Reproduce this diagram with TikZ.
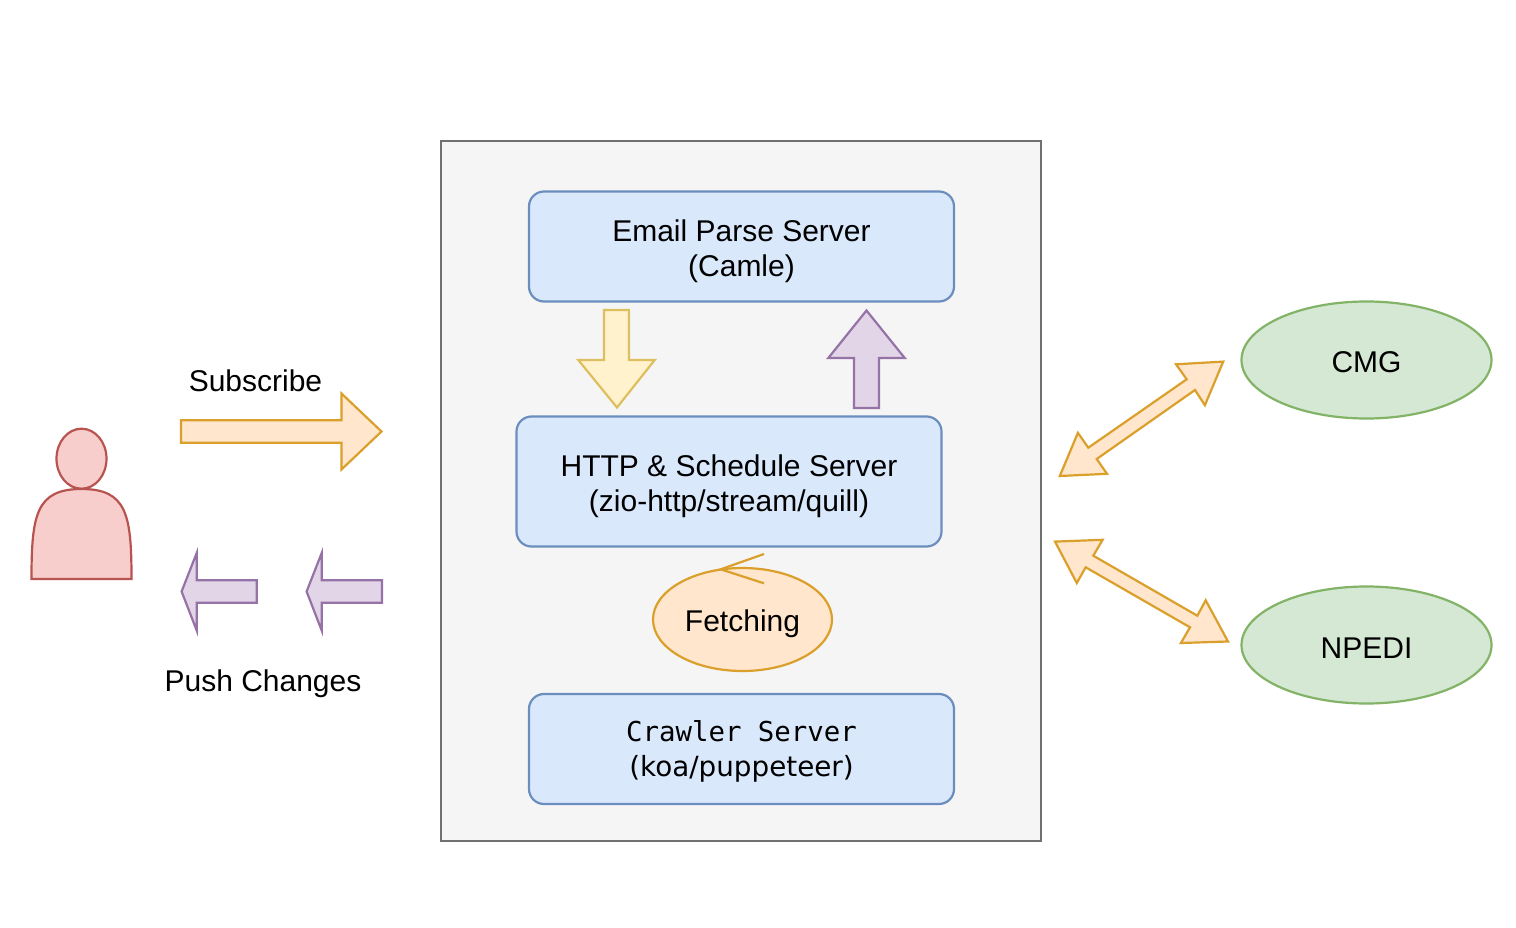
\documentclass[tikz,border=0pt]{standalone}
\usepackage{fontspec}
\setmainfont{Liberation Sans}
\newfontfamily\monof{DejaVu Sans Mono}
\newfontfamily\dejaf{DejaVu Sans}
\usetikzlibrary{shapes.geometric}
\definecolor{blueF}{HTML}{DAE8FC}\definecolor{blueD}{HTML}{6C8EBF}
\definecolor{grayF}{HTML}{F5F5F5}\definecolor{grayD}{HTML}{707070}
\definecolor{orF}{HTML}{FFE6CC}\definecolor{orD}{HTML}{DAA02B}
\definecolor{puF}{HTML}{E1D5E7}\definecolor{puD}{HTML}{9673A6}
\definecolor{yeF}{HTML}{FFF2CC}\definecolor{yeD}{HTML}{DDBF60}
\definecolor{reF}{HTML}{F8CECC}\definecolor{reD}{HTML}{B85450}
\definecolor{grF}{HTML}{D5E8D4}\definecolor{grD}{HTML}{82B366}
\newcommand{\strutH}[1]{\rule{0pt}{#1pt}}
\tikzset{
  base/.style={line width=2.2pt,line join=miter},
  txt/.style={font=\fontsize{30}{35}\selectfont,align=center,text=black,inner sep=0pt},
  server/.style={base,rectangle,rounded corners=15pt,draw=blueD,fill=blueF,minimum width=425pt,txt},
  remote/.style={base,ellipse,draw=grD,fill=grF,minimum width=250pt,minimum height=117pt,txt},
  orArrow/.style={base,draw=orD,fill=orF},
  puArrow/.style={base,draw=puD,fill=puF},
  yeArrow/.style={base,draw=yeD,fill=yeF},
  person/.style={base,draw=reD,fill=reF},
}
\begin{document}
\begin{tikzpicture}[x=1pt,y=-1pt]
\useasboundingbox (0,0) rectangle (1516,928);
\fill[white] (0,0) rectangle (1516,928);
% container
\node[base,rectangle,draw=grayD,fill=grayF,minimum width=600pt,minimum height=700pt,anchor=center] (box) at (741.3,491) {};
% servers
\node[server,minimum height=110pt] (email) at (741.5,246.5) {\strutH{32}Email Parse Server\\(Camle)};
\node[server,minimum height=130pt] (http) at (729,481.5) {\strutH{31}HTTP \& Schedule Server\\(zio-http/stream/quill)};
\node[server,minimum height=110pt] (crawler) at (741.5,749) {\strutH{25}{\monof\fontsize{27.4}{35}\selectfont Crawler Server}\\{\dejaf\fontsize{27.8}{35}\selectfont (koa/puppeteer)}};
% fetching
\node[base,ellipse,draw=orD,fill=orF,minimum width=179pt,minimum height=103pt,txt] (fetch) at (742.5,619.5) {\strutH{30}Fetching};
\draw[base,draw=orD] (764,554) -- (720.7,569.3) -- (764,583.3);
% remotes
\node[remote] (cmg) at (1366.5,360) {\strutH{26}CMG};
\node[remote] (npedi) at (1366.5,645) {\strutH{26}NPEDI};
% vertical block arrows
\draw[yeArrow] (604,310) -- (629,310) -- (629,360) -- (654.7,360) -- (617,407.5) -- (578.3,360) -- (604,360) -- cycle;
\draw[puArrow] (854,408) -- (879,408) -- (879,358) -- (904.7,358) -- (866.5,310.5) -- (828.3,358) -- (854,358) -- cycle;
% double block arrows
\draw[orArrow] (1223.2,361.6) -- (1176,364.3) -- (1186.7,379.3) -- (1088.3,447.7) -- (1077.9,432.8) -- (1059.8,476) -- (1107,473.8) -- (1096.7,459) -- (1195,390) -- (1204.9,405.2) -- cycle;
\draw[orArrow] (1055,541.6) -- (1102.6,539.8) -- (1093.3,555.7) -- (1197.3,615.7) -- (1205.7,600.3) -- (1228,641.5) -- (1180.9,643) -- (1190,627.3) -- (1085.7,567.3) -- (1076.8,583) -- cycle;
% person
\draw[person] (31.5,579) .. controls (31.5,515) and (36,489) .. (81.5,489) .. controls (127,489) and (131.5,515) .. (131.5,579) -- cycle;
\node[base,ellipse,draw=reD,fill=reF,minimum width=50pt,minimum height=60pt,inner sep=0pt] (head) at (81.5,458.7) {};
% left block arrows
\draw[orArrow] (181,420.3) -- (341.5,420.3) -- (341.5,393.5) -- (381.5,431.5) -- (341.5,469.5) -- (341.5,442.7) -- (181,442.7) -- cycle;
\draw[puArrow] (256.7,580.3) -- (196.7,580.3) -- (196.7,553) -- (181.6,591.5) -- (196.7,630.5) -- (196.7,602.7) -- (256.7,602.7) -- cycle;
\draw[puArrow] (382,580.3) -- (321.7,580.3) -- (321.7,553) -- (306.6,591.5) -- (321.7,630.5) -- (321.7,602.7) -- (382,602.7) -- cycle;
% labels
\node[txt] (sub) at (255.5,381) {Subscribe};
\node[txt] (push) at (263,681) {\strutH{28}Push Changes};
\end{tikzpicture}
\end{document}
